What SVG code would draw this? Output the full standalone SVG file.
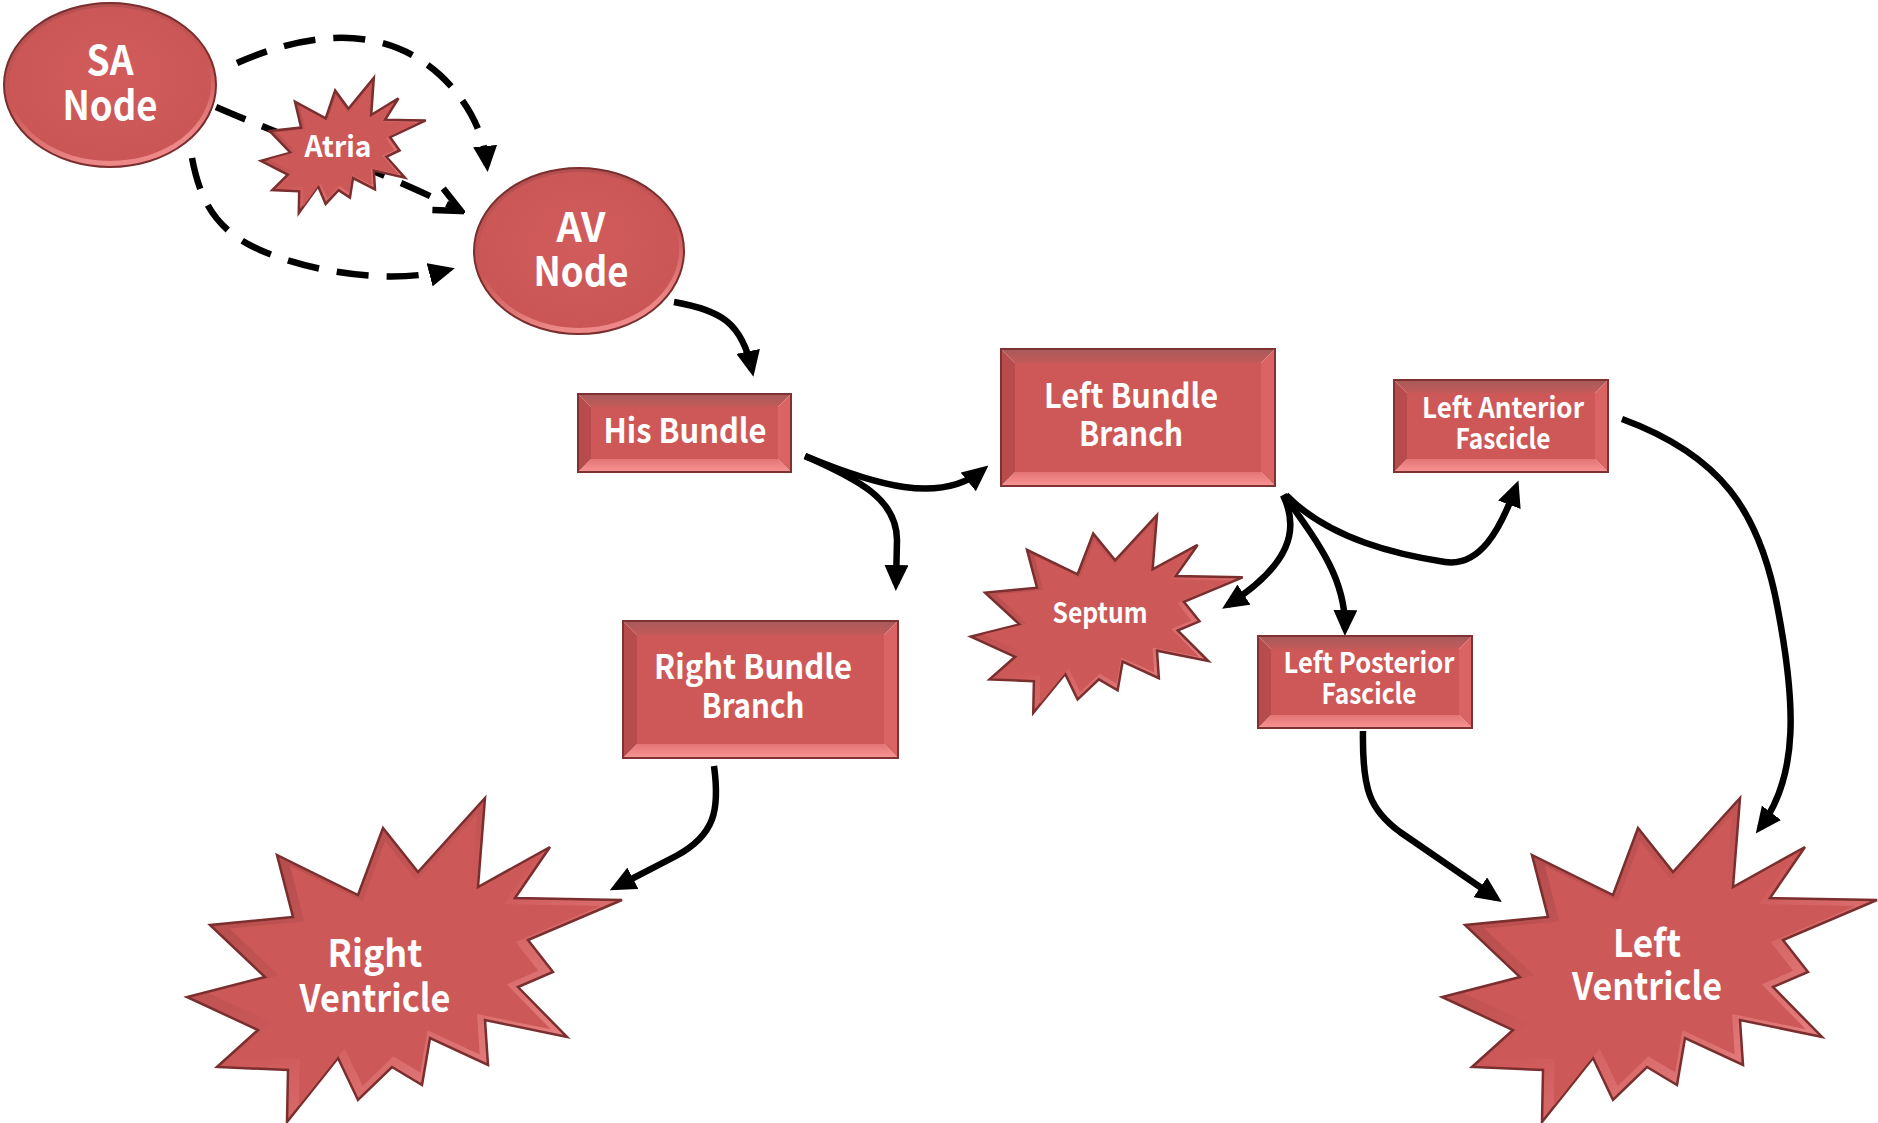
<svg xmlns="http://www.w3.org/2000/svg" xmlns:xlink="http://www.w3.org/1999/xlink" width="1878" height="1123" viewBox="0 0 1878 1123">
  <style>
    .t { font-family: "Noto Sans CJK KR", "Noto Sans", sans-serif; font-weight: bold; fill: #ffffff; text-anchor: middle; }
    .wire { fill: none; stroke: #000000; stroke-width: 6.5; stroke-linecap: butt; }
    .dash { fill: none; stroke: #000000; stroke-width: 6.5; stroke-dasharray: 32 18; }
    .bt { fill: url(#bevTop); }
    .bb { fill: url(#bevBottom); }
    .bl { fill: #B84C4C; }
    .br { fill: #DA6363; }
    .face { fill: #CE5858; }
    .frame { fill: none; stroke: #7E3232; stroke-width: 2; }
    .burst-out { fill: url(#burstGrad); stroke: #7A2E2E; stroke-width: 2.5; }
    .burst-in { fill: #CD5858; }
  </style>
  <defs>
    <linearGradient id="bevTop" x1="0" y1="0" x2="0" y2="1">
      <stop offset="0" stop-color="#A85A5A"/>
      <stop offset="1" stop-color="#C45A5A"/>
    </linearGradient>
    <linearGradient id="bevBottom" x1="0" y1="0" x2="0" y2="1">
      <stop offset="0" stop-color="#E47474"/>
      <stop offset="1" stop-color="#F89494"/>
    </linearGradient>
    <linearGradient id="burstGrad" x1="0" y1="0" x2="1" y2="1">
      <stop offset="0" stop-color="#A44444"/>
      <stop offset="0.5" stop-color="#CF5A5A"/>
      <stop offset="1" stop-color="#F59898"/>
    </linearGradient>
    <linearGradient id="ovalRim" x1="0" y1="0" x2="0.3" y2="1">
      <stop offset="0" stop-color="#AE4E4E"/>
      <stop offset="0.6" stop-color="#CC5656"/>
      <stop offset="1" stop-color="#EE8888"/>
    </linearGradient>
    <radialGradient id="ovalFace" cx="0.5" cy="0.45" r="0.6">
      <stop offset="0" stop-color="#D25C5C"/>
      <stop offset="1" stop-color="#C95555"/>
    </radialGradient>
    <!-- explosion outline, centred on the origin -->
    <polygon id="burst" vector-effect="non-scaling-stroke" points="80,-162 73,-73 145,-113 110,-62 217,-60 123,-20 148,12 113,27 162,77 80,60 83,105 25,78 17,125 -13,107 -47,140 -67,98 -118,162 -117,110 -188,107 -147,70 -218,37 -140,17 -195,-35 -112,-43 -128,-105 -47,-65 -22,-132 13,-88"/>
    <marker id="ah" viewBox="0 0 26 24" refX="19" refY="12" markerWidth="26" markerHeight="24" markerUnits="userSpaceOnUse" orient="auto">
      <path d="M0,0 L26,12 L0,24 z" fill="#000000"/>
    </marker>
    <marker id="ahOpen" viewBox="-4 -4 34 32" refX="26" refY="12" markerWidth="34" markerHeight="32" markerUnits="userSpaceOnUse" orient="auto">
      <path d="M0,0 L26,12 L0,24" fill="none" stroke="#000000" stroke-width="6.5"/>
    </marker>
  </defs>

  <rect width="1878" height="1123" fill="#ffffff"/>

  <g id="connectors">
    <!-- SA node to AV node, three dashed routes -->
    <path class="dash" d="M237,63 C300,35 380,20 440,75 C470,103 484,135 487,165" marker-end="url(#ah)"/>
    <path class="dash" d="M216,107 C280,135 380,170 461,211" marker-end="url(#ahOpen)"/>
    <path class="dash" d="M192,158 C200,200 215,230 260,250 C310,272 390,285 448,270" marker-end="url(#ah)"/>
    <!-- conduction path -->
    <path class="wire" d="M674,302 C720,310 742,322 752,370" marker-end="url(#ah)"/>
    <path class="wire" d="M805,456 C875,485 940,505 983,470" marker-end="url(#ah)"/>
    <path class="wire" d="M805,456 C860,480 897,500 897,540 L896,584" marker-end="url(#ah)"/>
    <path class="wire" d="M1283,495 C1300,530 1290,565 1228,605" marker-end="url(#ah)"/>
    <path class="wire" d="M1284,495 C1320,545 1346,580 1345,629" marker-end="url(#ah)"/>
    <path class="wire" d="M1286,495 C1330,540 1400,555 1445,562 C1480,567 1500,530 1516,487" marker-end="url(#ah)"/>
    <path class="wire" d="M1622,419 C1720,455 1760,510 1778,610 C1795,700 1800,775 1760,828" marker-end="url(#ah)"/>
    <path class="wire" d="M1363,731 C1362,790 1370,810 1400,832 L1496,898" marker-end="url(#ah)"/>
    <path class="wire" d="M714,766 C720,810 715,835 676,856 L616,887" marker-end="url(#ah)"/>
  </g>

  <g id="sa-node">
    <ellipse cx="110" cy="85" rx="106" ry="82" fill="url(#ovalRim)" stroke="#7A2E2E" stroke-width="2"/>
    <ellipse cx="110" cy="84" rx="101" ry="77" fill="url(#ovalFace)"/>
    <text class="t" font-size="40"><tspan x="110" y="75" textLength="47" lengthAdjust="spacingAndGlyphs">SA</tspan><tspan x="110" y="120" textLength="95" lengthAdjust="spacingAndGlyphs">Node</tspan></text>
  </g>

  <g id="atria">
    <use xlink:href="#burst" class="burst-out" transform="translate(343.5,145.5) scale(0.379,0.417)"/>
    <use xlink:href="#burst" class="burst-in" transform="translate(343.5,145.5) scale(0.343,0.378)"/>
    <text class="t" font-size="29"><tspan x="338" y="157" textLength="67" lengthAdjust="spacingAndGlyphs">Atria</tspan></text>
  </g>

  <g id="av-node">
    <ellipse cx="579" cy="251" rx="105" ry="83" fill="url(#ovalRim)" stroke="#7A2E2E" stroke-width="2"/>
    <ellipse cx="579" cy="250" rx="100" ry="78" fill="url(#ovalFace)"/>
    <text class="t" font-size="40"><tspan x="581" y="242" textLength="49" lengthAdjust="spacingAndGlyphs">AV</tspan><tspan x="581" y="286" textLength="95" lengthAdjust="spacingAndGlyphs">Node</tspan></text>
  </g>

  <g id="his-bundle">
    <polygon class="bt" points="578,394 791,394 778,407 591,407"/>
    <polygon class="bb" points="578,472 791,472 778,459 591,459"/>
    <polygon class="bl" points="578,394 591,407 591,459 578,472"/>
    <polygon class="br" points="791,394 778,407 778,459 791,472"/>
    <rect class="face" x="591" y="407" width="187" height="52"/>
    <rect class="frame" x="578" y="394" width="213" height="78"/>
    <text class="t" font-size="33"><tspan x="685" y="443" textLength="163" lengthAdjust="spacingAndGlyphs">His Bundle</tspan></text>
  </g>

  <g id="left-bundle-branch">
    <polygon class="bt" points="1001,349 1275,349 1261,363 1015,363"/>
    <polygon class="bb" points="1001,486 1275,486 1261,472 1015,472"/>
    <polygon class="bl" points="1001,349 1015,363 1015,472 1001,486"/>
    <polygon class="br" points="1275,349 1261,363 1261,472 1275,486"/>
    <rect class="face" x="1015" y="363" width="246" height="109"/>
    <rect class="frame" x="1001" y="349" width="274" height="137"/>
    <text class="t" font-size="33"><tspan x="1131" y="408" textLength="174" lengthAdjust="spacingAndGlyphs">Left Bundle</tspan><tspan x="1131" y="446" textLength="104" lengthAdjust="spacingAndGlyphs">Branch</tspan></text>
  </g>

  <g id="left-anterior-fascicle">
    <polygon class="bt" points="1394,380 1608,380 1595,393 1407,393"/>
    <polygon class="bb" points="1394,472 1608,472 1595,459 1407,459"/>
    <polygon class="bl" points="1394,380 1407,393 1407,459 1394,472"/>
    <polygon class="br" points="1608,380 1595,393 1595,459 1608,472"/>
    <rect class="face" x="1407" y="393" width="188" height="66"/>
    <rect class="frame" x="1394" y="380" width="214" height="92"/>
    <text class="t" font-size="28"><tspan x="1503" y="418" textLength="162" lengthAdjust="spacingAndGlyphs">Left Anterior</tspan><tspan x="1503" y="449" textLength="95" lengthAdjust="spacingAndGlyphs">Fascicle</tspan></text>
  </g>

  <g id="right-bundle-branch">
    <polygon class="bt" points="623,621 898,621 884,635 637,635"/>
    <polygon class="bb" points="623,758 898,758 884,744 637,744"/>
    <polygon class="bl" points="623,621 637,635 637,744 623,758"/>
    <polygon class="br" points="898,621 884,635 884,744 898,758"/>
    <rect class="face" x="637" y="635" width="247" height="109"/>
    <rect class="frame" x="623" y="621" width="275" height="137"/>
    <text class="t" font-size="33"><tspan x="753" y="679" textLength="198" lengthAdjust="spacingAndGlyphs">Right Bundle</tspan><tspan x="753" y="718" textLength="103" lengthAdjust="spacingAndGlyphs">Branch</tspan></text>
  </g>

  <g id="septum">
    <use xlink:href="#burst" class="burst-out" transform="translate(1107,614) scale(0.625,0.611)"/>
    <use xlink:href="#burst" class="burst-in" transform="translate(1107,614) scale(0.57,0.557)"/>
    <text class="t" font-size="28"><tspan x="1100" y="623" textLength="95" lengthAdjust="spacingAndGlyphs">Septum</tspan></text>
  </g>

  <g id="left-posterior-fascicle">
    <polygon class="bt" points="1258,636 1472,636 1459,649 1271,649"/>
    <polygon class="bb" points="1258,728 1472,728 1459,715 1271,715"/>
    <polygon class="bl" points="1258,636 1271,649 1271,715 1258,728"/>
    <polygon class="br" points="1472,636 1459,649 1459,715 1472,728"/>
    <rect class="face" x="1271" y="649" width="188" height="66"/>
    <rect class="frame" x="1258" y="636" width="214" height="92"/>
    <text class="t" font-size="28"><tspan x="1369" y="673" textLength="171" lengthAdjust="spacingAndGlyphs">Left Posterior</tspan><tspan x="1369" y="704" textLength="95" lengthAdjust="spacingAndGlyphs">Fascicle</tspan></text>
  </g>

  <g id="right-ventricle">
    <use xlink:href="#burst" class="burst-out" transform="translate(405,960)"/>
    <use xlink:href="#burst" class="burst-in" transform="translate(405,960) scale(0.9)"/>
    <text class="t" font-size="38"><tspan x="375" y="967" textLength="95" lengthAdjust="spacingAndGlyphs">Right</tspan><tspan x="375" y="1012" textLength="151" lengthAdjust="spacingAndGlyphs">Ventricle</tspan></text>
  </g>

  <g id="left-ventricle">
    <use xlink:href="#burst" class="burst-out" transform="translate(1660,960)"/>
    <use xlink:href="#burst" class="burst-in" transform="translate(1660,960) scale(0.9)"/>
    <text class="t" font-size="38"><tspan x="1647" y="957" textLength="68" lengthAdjust="spacingAndGlyphs">Left</tspan><tspan x="1647" y="1000" textLength="150" lengthAdjust="spacingAndGlyphs">Ventricle</tspan></text>
  </g>
</svg>
